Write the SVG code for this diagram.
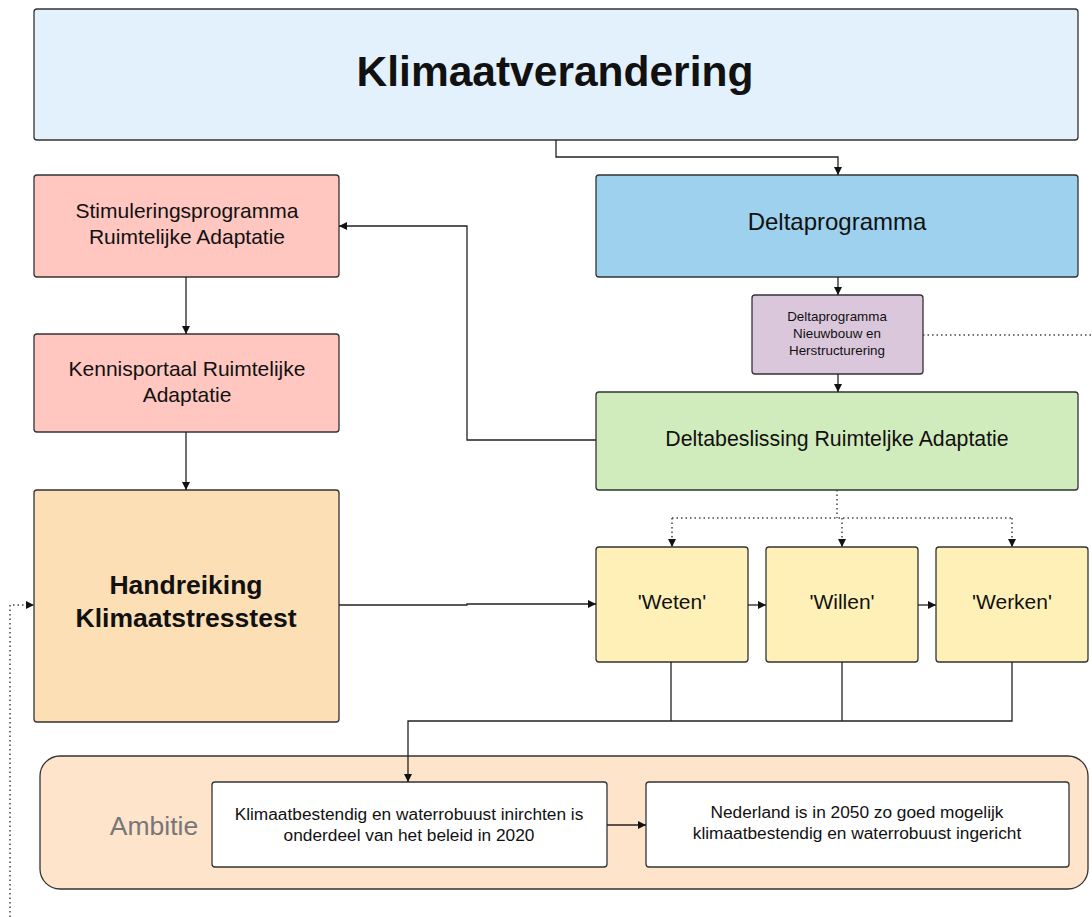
<svg xmlns="http://www.w3.org/2000/svg" width="1092" height="917" viewBox="0 0 1092 917">
<style>
.box{stroke:#333;stroke-width:1.3}
.t{font-family:"Liberation Sans",Arial,sans-serif;fill:#111;text-anchor:middle}
.c{fill:none;stroke:#222;stroke-width:1.3}
.d{fill:none;stroke:#444;stroke-width:1.5;stroke-dasharray:1.5 3}
</style>
<defs>
<marker id="a" viewBox="0 0 10 10" refX="10" refY="5" markerWidth="8" markerHeight="8" markerUnits="userSpaceOnUse" orient="auto">
<path d="M0,0 L10,5 L0,10 z" fill="#111"/>
</marker>
</defs>
<rect width="1092" height="917" fill="#fff"/>
<g id="ambitie">
<rect x="40" y="756" width="1048" height="133" rx="20" fill="#ffe4cc" class="box"/>
<text x="154" y="835" class="t" style="font-size:26.5px;fill:#777">Ambitie</text>
</g>
<g id="klimaatverandering">
<rect x="34" y="9" width="1044" height="131" rx="3" fill="#e3f1fd" class="box"/>
<text x="555" y="86" class="t" style="font-size:42.5px;font-weight:bold">Klimaatverandering</text>
</g>
<g id="stimulering">
<rect x="34" y="175" width="305" height="102" rx="3" fill="#ffc7c0" class="box"/>
<text class="t" style="font-size:21px"><tspan x="187" y="218">Stimuleringsprogramma</tspan><tspan x="187" y="244">Ruimtelijke Adaptatie</tspan></text>
</g>
<g id="kennisportaal">
<rect x="34" y="334" width="305" height="98" rx="3" fill="#ffc7c0" class="box"/>
<text class="t" style="font-size:21px"><tspan x="187" y="376">Kennisportaal Ruimtelijke</tspan><tspan x="187" y="402">Adaptatie</tspan></text>
</g>
<g id="handreiking">
<rect x="34" y="490" width="305" height="232" rx="3" fill="#fddfb6" class="box"/>
<text class="t" style="font-size:26.5px;font-weight:bold"><tspan x="186" y="594">Handreiking</tspan><tspan x="186" y="627">Klimaatstresstest</tspan></text>
</g>
<g id="deltaprogramma">
<rect x="596" y="175" width="482" height="102" rx="3" fill="#9dd1ee" class="box"/>
<text x="837" y="230" class="t" style="font-size:24px">Deltaprogramma</text>
</g>
<g id="nieuwbouw">
<rect x="752" y="295" width="171" height="79" rx="3" fill="#dbc7dc" class="box"/>
<text class="t" style="font-size:13.4px"><tspan x="837" y="321">Deltaprogramma</tspan><tspan x="837" y="338">Nieuwbouw en</tspan><tspan x="837" y="355">Herstructurering</tspan></text>
</g>
<g id="deltabeslissing">
<rect x="596" y="392" width="482" height="98" rx="3" fill="#d1ecbc" class="box"/>
<text x="837" y="446" class="t" style="font-size:21.3px">Deltabeslissing Ruimteljke Adaptatie</text>
</g>
<g id="weten">
<rect x="596" y="547" width="152" height="115" rx="3" fill="#fff0b8" class="box"/>
<text x="672" y="609" class="t" style="font-size:21px">'Weten'</text>
</g>
<g id="willen">
<rect x="766" y="547" width="152" height="115" rx="3" fill="#fff0b8" class="box"/>
<text x="842" y="609" class="t" style="font-size:21px">'Willen'</text>
</g>
<g id="werken">
<rect x="936" y="547" width="152" height="115" rx="3" fill="#fff0b8" class="box"/>
<text x="1012" y="609" class="t" style="font-size:21px">'Werken'</text>
</g>
<g id="ambitie2020">
<rect x="212" y="782" width="395" height="85" rx="3" fill="#fff" class="box"/>
<text class="t" style="font-size:17.3px"><tspan x="409" y="820">Klimaatbestendig en waterrobuust inirchten is</tspan><tspan x="409" y="841">onderdeel van het beleid in 2020</tspan></text>
</g>
<g id="ambitie2050">
<rect x="646" y="782" width="423" height="85" rx="3" fill="#fff" class="box"/>
<text class="t" style="font-size:17.3px"><tspan x="857" y="818">Nederland is in 2050 zo goed mogelijk</tspan><tspan x="857" y="839">klimaatbestendig en waterrobuust ingericht</tspan></text>
</g>
<g id="connectors">
<path class="c" d="M556,140 V157 H838 V175" marker-end="url(#a)"/>
<path class="c" d="M838,277 V295" marker-end="url(#a)"/>
<path class="c" d="M838,374 V392" marker-end="url(#a)"/>
<path class="c" d="M596,440 H467 V226 H339" marker-end="url(#a)"/>
<path class="c" d="M186,277 V334" marker-end="url(#a)"/>
<path class="c" d="M186,432 V490" marker-end="url(#a)"/>
<path class="c" d="M339,605 H467 V604 H596" marker-end="url(#a)"/>
<path class="c" d="M748,605 H766" marker-end="url(#a)"/>
<path class="c" d="M918,605 H936" marker-end="url(#a)"/>
<path class="c" d="M671,662 V721"/>
<path class="c" d="M842,662 V721"/>
<path class="c" d="M1012,662 V721 H408 V782" marker-end="url(#a)"/>
<path class="c" d="M607,825 H646" marker-end="url(#a)"/>
<path class="d" d="M837,490 V518"/>
<path class="d" d="M672,518 H1012"/>
<path class="d" d="M672,518 V547" marker-end="url(#a)"/>
<path class="d" d="M842,518 V547" marker-end="url(#a)"/>
<path class="d" d="M1012,518 V547" marker-end="url(#a)"/>
<path class="d" d="M923,335 H1092"/>
<path class="d" d="M10,917 V605 H34" marker-end="url(#a)"/>
</g>
</svg>
